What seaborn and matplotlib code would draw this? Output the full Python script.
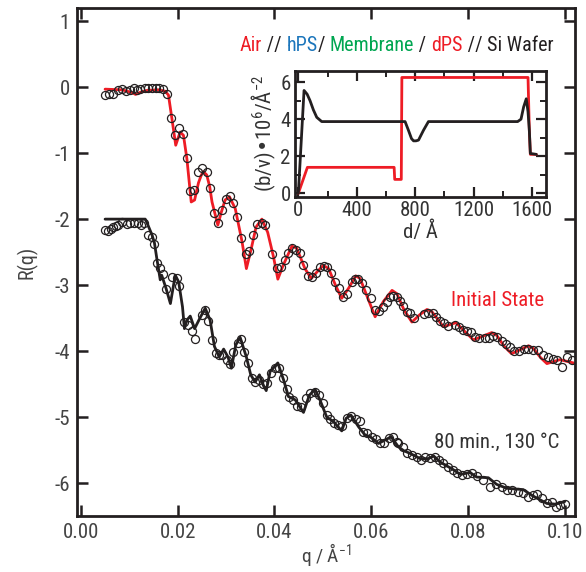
import numpy as np
import pandas as pd
import matplotlib
matplotlib.use("Agg")
import matplotlib.pyplot as plt
import seaborn as sns
from matplotlib.offsetbox import TextArea, HPacker, AnchoredOffsetbox
from matplotlib.ticker import FormatStrFormatter, MultipleLocator
from matplotlib import font_manager

# ---------------- data ----------------
# Initial state: measured points
red_q = [0.00502, 0.00585, 0.00674, 0.00764, 0.00847, 0.00936, 0.01019, 0.01088, 0.01157, 0.01225,
         0.01315, 0.01397, 0.0148, 0.0155, 0.01618, 0.01707, 0.01777, 0.01866, 0.01948, 0.02031,
         0.0212, 0.0219, 0.02258, 0.02341, 0.0243, 0.02512, 0.02603, 0.02671, 0.02754, 0.02843,
         0.02913, 0.02996, 0.03085, 0.03153, 0.03236, 0.03312, 0.03415, 0.03484, 0.03566, 0.03649,
         0.0374, 0.03808, 0.03959, 0.0405, 0.04132, 0.04221, 0.04289, 0.0436, 0.04448, 0.04531,
         0.04599, 0.04703, 0.04773, 0.04862, 0.04944, 0.05027, 0.05095, 0.05165, 0.05254, 0.05343,
         0.05426, 0.05496, 0.05599, 0.05667, 0.05736, 0.05806, 0.05895, 0.05992, 0.06081, 0.06169,
         0.0624, 0.06322, 0.0639, 0.06459, 0.06529, 0.06597, 0.06665, 0.06736, 0.06804, 0.06886,
         0.07093, 0.07182, 0.07285, 0.07341, 0.07424, 0.07506, 0.07595, 0.07734, 0.07822, 0.07893,
         0.07975, 0.08058, 0.08147, 0.08236, 0.08353, 0.08442, 0.08525, 0.08608, 0.08698, 0.08787,
         0.0887, 0.08953, 0.09062, 0.09159, 0.09248, 0.09351, 0.09455, 0.09558, 0.09661, 0.09752,
         0.09847, 0.0995, 0.10054, 0.10157]
red_R = [-0.121, -0.111, -0.096, -0.045, -0.03, -0.06, -0.045, -0.02, -0.045, -0.03,
         -0.02, -0.02, -0.01, -0.01, -0.02, -0.03, -0.096, -0.465, -0.727, -0.626,
         -0.717, -1.07, -1.576, -1.56, -1.283, -1.22, -1.283, -1.535, -1.914, -2.065,
         -1.864, -1.697, -1.647, -1.762, -1.965, -2.292, -2.53, -2.48, -2.242, -2.076,
         -2.056, -2.09, -2.53, -2.747, -2.722, -2.621, -2.52, -2.444, -2.47, -2.52,
         -2.697, -2.864, -2.884, -2.823, -2.732, -2.712, -2.732, -2.823, -2.95, -3.05,
         -3.177, -3.136, -2.95, -2.914, -2.914, -2.974, -3.076, -3.2, -3.379, -3.389,
         -3.329, -3.253, -3.177, -3.167, -3.177, -3.238, -3.318, -3.404, -3.43, -3.505,
         -3.444, -3.419, -3.419, -3.48, -3.54, -3.58, -3.621, -3.606, -3.641, -3.682,
         -3.692, -3.707, -3.783, -3.808, -3.808, -3.808, -3.773, -3.783, -3.844, -3.894,
         -3.944, -3.995, -3.995, -3.975, -3.975, -3.985, -3.985, -4.061, -4.086, -4.126,
         -4.136, -4.247, -4.095, -4.136]

# Initial state: model fit
red_fit_q = [0.005, 0.0085, 0.0105, 0.0113, 0.0122, 0.0136, 0.016, 0.0174, 0.0181, 0.0188,
             0.0196, 0.0205, 0.0212, 0.0219, 0.0228, 0.0235, 0.0243, 0.0249, 0.0253, 0.026,
             0.0266, 0.0271, 0.0283, 0.029, 0.0298, 0.0307, 0.0319, 0.0333, 0.0342, 0.0352,
             0.0362, 0.0374, 0.0386, 0.0398, 0.0407, 0.0418, 0.0436, 0.0446, 0.0463, 0.0476,
             0.0488, 0.0501, 0.0512, 0.0526, 0.0539, 0.0553, 0.0568, 0.0577, 0.0593, 0.0608,
             0.0625, 0.0643, 0.0653, 0.0668, 0.0684, 0.07, 0.0715, 0.0725, 0.0749, 0.0775,
             0.0793, 0.0811, 0.0849, 0.0859, 0.0875, 0.089, 0.0925, 0.0935, 0.095, 0.0963,
             0.099, 0.1018]
red_fit_R = [-0.03, -0.04, -0.08, -0.11, -0.08, -0.05, -0.04, -0.06, -0.12, -0.47,
             -0.88, -0.68, -0.73, -1.08, -1.74, -1.71, -1.45, -1.33, -1.28, -1.33,
             -1.5, -1.74, -2.09, -1.9, -1.71, -1.66, -1.84, -2.34, -2.75, -2.45,
             -2.12, -2.0, -2.2, -2.57, -2.91, -2.7, -2.41, -2.44, -2.75, -2.9,
             -2.8, -2.7, -2.75, -3.0, -3.2, -3.05, -2.86, -2.9, -3.2, -3.48,
             -3.25, -3.08, -3.13, -3.38, -3.56, -3.45, -3.37, -3.4, -3.63, -3.57,
             -3.7, -3.83, -3.72, -3.76, -3.93, -4.04, -3.92, -3.96, -4.1, -4.19,
             -4.13, -4.18]

# 80 min., 130 C: measured points
blk_q = [0.00502, 0.0057, 0.00626, 0.00674, 0.00723, 0.00777, 0.0086, 0.0095, 0.01019, 0.01107,
         0.01178, 0.01246, 0.01314, 0.01397, 0.01467, 0.01521, 0.0157, 0.01638, 0.01707, 0.01756,
         0.01893, 0.01983, 0.02031, 0.0214, 0.02211, 0.02293, 0.02362, 0.025, 0.02568, 0.02636,
         0.02707, 0.02789, 0.02857, 0.02926, 0.03017, 0.03085, 0.03153, 0.03244, 0.03312, 0.03374,
         0.03463, 0.03533, 0.03601, 0.0369, 0.0376, 0.03843, 0.03926, 0.04014, 0.04103, 0.04186,
         0.04256, 0.0431, 0.04393, 0.04463, 0.04545, 0.04655, 0.04738, 0.04841, 0.0493, 0.05,
         0.05083, 0.05151, 0.05234, 0.05322, 0.05393, 0.05496, 0.05579, 0.05688, 0.05771, 0.05839,
         0.05922, 0.06012, 0.06101, 0.06184, 0.06267, 0.06376, 0.06459, 0.06529, 0.06562, 0.06653,
         0.06736, 0.06839, 0.06942, 0.07025, 0.07114, 0.07217, 0.0732, 0.07409, 0.07492, 0.07595,
         0.07686, 0.07769, 0.07872, 0.07975, 0.08079, 0.08194, 0.08306, 0.08457, 0.08581, 0.08698,
         0.08802, 0.08905, 0.09041, 0.09145, 0.09248, 0.09351, 0.09421, 0.09525, 0.09628, 0.09731,
         0.0982, 0.09903, 0.10006]
blk_R = [-2.167, -2.182, -2.156, -2.126, -2.106, -2.091, -2.041, -2.076, -2.065, -2.056,
         -2.065, -2.086, -2.056, -2.242, -2.268, -2.379, -2.671, -2.747, -2.833, -3.065,
         -2.883, -2.899, -3.015, -3.556, -3.606, -3.692, -3.823, -3.455, -3.379, -3.541,
         -3.833, -4.035, -4.061, -4.061, -4.136, -4.197, -4.011, -3.884, -3.823, -4.011,
         -4.177, -4.414, -4.465, -4.439, -4.5, -4.48, -4.329, -4.262, -4.262, -4.414,
         -4.58, -4.692, -4.742, -4.833, -4.843, -4.717, -4.641, -4.616, -4.667, -4.793,
         -4.97, -5.035, -5.086, -5.121, -5.136, -5.02, -4.985, -5.035, -5.056, -5.223,
         -5.247, -5.298, -5.338, -5.399, -5.39, -5.323, -5.308, -5.374, -5.399, -5.46,
         -5.541, -5.576, -5.601, -5.652, -5.601, -5.626, -5.601, -5.652, -5.702, -5.763,
         -5.803, -5.853, -5.879, -5.864, -5.853, -5.894, -5.955, -6.056, -6.015, -6.066,
         -6.106, -6.106, -6.131, -6.147, -6.207, -6.182, -6.167, -6.232, -6.308, -6.283,
         -6.369, -6.333, -6.318]

# 80 min., 130 C: model fit
blk_fit_q = [0.005, 0.0133, 0.0138, 0.0147, 0.0152, 0.0157, 0.0164, 0.0167, 0.0176, 0.0185,
             0.0195, 0.0202, 0.021, 0.0214, 0.0219, 0.0226, 0.0235, 0.0246, 0.0257, 0.0267,
             0.0276, 0.0286, 0.0295, 0.0304, 0.0311, 0.032, 0.0329, 0.0342, 0.0351, 0.036,
             0.0369, 0.0377, 0.0383, 0.0391, 0.0407, 0.0419, 0.0429, 0.0443, 0.045, 0.046,
             0.0472, 0.0484, 0.0494, 0.0508, 0.0522, 0.0539, 0.0548, 0.0558, 0.0574, 0.0587,
             0.0598, 0.0615, 0.0641, 0.0656, 0.0667, 0.068, 0.0701, 0.0718, 0.0729, 0.0742,
             0.077, 0.0784, 0.0804, 0.0818, 0.0842, 0.0859, 0.088, 0.0914, 0.0935, 0.0963,
             0.098, 0.1]
blk_fit_R = [-2.0, -2.0, -2.08, -2.24, -2.36, -2.6, -2.92, -2.85, -3.05, -3.28,
             -2.85, -2.95, -3.33, -3.66, -3.53, -3.47, -3.66, -3.5, -3.35, -3.53,
             -3.93, -4.09, -3.97, -4.09, -4.26, -3.91, -3.79, -4.09, -4.36, -4.47,
             -4.36, -4.52, -4.6, -4.31, -4.18, -4.44, -4.69, -4.74, -4.82, -4.93,
             -4.67, -4.58, -4.74, -5.0, -5.07, -5.21, -5.02, -4.97, -5.15, -5.27,
             -5.3, -5.4, -5.3, -5.45, -5.51, -5.55, -5.63, -5.63, -5.59, -5.68,
             -5.8, -5.87, -5.84, -5.91, -5.92, -6.02, -6.08, -6.1, -6.2, -6.31,
             -6.32, -6.28]

# Inset: scattering length density profiles
sld_red_d = [0, 62, 656, 660, 705, 709, 1573, 1582, 1589, 1630]
sld_red_v = [0, 1.4, 1.4, 0.75, 0.75, 6.25, 6.25, 3.4, 2.1, 2.1]
sld_blk_d = [0, 39, 60, 80, 103, 126, 160, 731, 754, 775, 789, 806, 823, 857, 891, 1502, 1525, 1543, 1561, 1573, 1582, 1589, 1630]
sld_blk_v = [0, 5.55, 5.35, 5.0, 4.5, 4.1, 3.87, 3.87, 3.4, 2.95, 2.83, 2.83, 2.87, 3.4, 3.87, 3.87, 4.0, 4.66, 5.1, 4.4, 3.4, 2.15, 2.1]

xticks_main = [0.00, 0.02, 0.04, 0.06, 0.08, 0.10]
yticks_main = [1, 0, -1, -2, -3, -4, -5, -6]
xticks_inset = [0, 400, 800, 1200, 1600]
yticks_inset = [0, 2, 4, 6]

title_parts = ["Air", " // ", "hPS", "/ ", "Membrane", " / ", "dPS", " // ", "Si Wafer"]
title_colors = ["#ee1c25", "#231f20", "#1b75bb", "#231f20", "#00a651", "#231f20", "#ee1c25", "#231f20", "#231f20"]

# ---------------- style ----------------
sns.set_style("ticks")
_avail = {f.name for f in font_manager.fontManager.ttflist}
_fams = [f for f in ['Roboto Condensed', 'Liberation Sans Narrow', 'Arial Narrow', 'Liberation Sans'] if f in _avail]
plt.rcParams['font.family'] = _fams + ['DejaVu Sans']
plt.rcParams['mathtext.default'] = 'regular'
plt.rcParams['axes.unicode_minus'] = False
narrow = _fams[0] in ('Roboto Condensed', 'Liberation Sans Narrow', 'Arial Narrow') if _fams else False
k = 1.0 if narrow else 0.86

RED = "#ee1c25"
BLK = "#231f20"

fig = plt.figure(figsize=(5.86, 5.72), dpi=100)
ax = fig.add_axes([0.1314, 0.0979, 0.8498, 0.8881])

df_rp = pd.DataFrame({"q": red_q, "R": red_R})
df_rf = pd.DataFrame({"q": red_fit_q, "R": red_fit_R})
df_bp = pd.DataFrame({"q": blk_q, "R": blk_R})
df_bf = pd.DataFrame({"q": blk_fit_q, "R": blk_fit_R})

sns.lineplot(data=df_rf, x="q", y="R", ax=ax, color=RED, lw=2.0, sort=False, estimator=None, zorder=2)
sns.lineplot(data=df_bf, x="q", y="R", ax=ax, color=BLK, lw=2.0, sort=False, estimator=None, zorder=2)
for d in (df_rp, df_bp):
    ax.plot(d["q"], d["R"], ls="none", marker="o", ms=5.8, mfc="none", mec=BLK, mew=0.9, zorder=3)

ax.set_xlim(-0.0008, 0.1021)
ax.set_ylim(-6.5, 1.2)
ax.set_xticks(xticks_main)
ax.set_yticks(yticks_main)
ax.xaxis.set_major_formatter(FormatStrFormatter('%.2f'))
ax.tick_params(direction="in", length=8, width=1.8, labelsize=15 * k, top=True, right=True,
               labeltop=False, labelright=False, pad=5, colors=BLK, labelcolor="#444444")
for s in ax.spines.values():
    s.set_linewidth(2.0)
    s.set_color(BLK)
ax.set_xlabel("q / Å$^{-1}$", fontsize=14 * k, color="#444444", labelpad=-1)
ax.set_ylabel("R(q)", fontsize=14.5 * k, color="#444444", labelpad=12)

ax.text(0.0862, -3.23, "Initial State", color=RED, fontsize=15 * k, ha="center", va="center")
ax.text(0.086, -5.38, "80 min., 130 °C", color="#333333", fontsize=15 * k, ha="center", va="center")

# colored header line
areas = [TextArea(t, textprops=dict(color=c, fontsize=14.5 * k)) for t, c in zip(title_parts, title_colors)]
box = HPacker(children=areas, align="baseline", pad=0, sep=0)
anch = AnchoredOffsetbox(loc="center", child=box, frameon=False,
                         bbox_to_anchor=(0.677, 0.921), bbox_transform=fig.transFigure, borderpad=0)
fig.add_artist(anch)

# ---------------- inset ----------------
axi = fig.add_axes([0.5034, 0.6556, 0.4283, 0.2203])
df_sr = pd.DataFrame({"d": sld_red_d, "v": sld_red_v})
df_sb = pd.DataFrame({"d": sld_blk_d, "v": sld_blk_v})
sns.lineplot(data=df_sr, x="d", y="v", ax=axi, color=RED, lw=2.0, sort=False, estimator=None)
sns.lineplot(data=df_sb, x="d", y="v", ax=axi, color=BLK, lw=2.0, sort=False, estimator=None)
axi.set_xlim(-23, 1696)
axi.set_ylim(-0.2, 6.6)
axi.set_xticks(xticks_inset)
axi.set_yticks(yticks_inset)
axi.xaxis.set_minor_locator(MultipleLocator(200))
axi.yaxis.set_minor_locator(MultipleLocator(1))
axi.tick_params(which="major", direction="in", length=7, width=1.6, labelsize=15 * k,
                top=True, right=True, pad=3, colors=BLK, labelcolor="#333333")
axi.tick_params(which="minor", direction="in", length=4, width=1.4, top=True, right=True, colors=BLK)
for s in axi.spines.values():
    s.set_linewidth(2.0)
    s.set_color(BLK)
axi.set_xlabel("d/ Å", fontsize=15 * k, color="#333333", labelpad=1)
axi.set_ylabel("(b/v)•10$^{6}$/Å$^{-2}$", fontsize=15 * k, color="#333333", labelpad=2)

fig.savefig("out.png", dpi=100)
